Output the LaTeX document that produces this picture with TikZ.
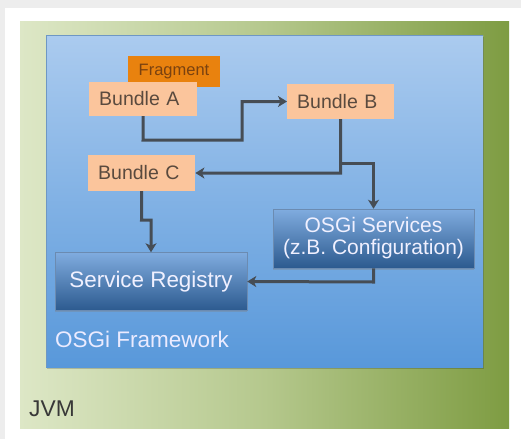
\documentclass[tikz,border=0pt]{standalone}
\usepackage{fontspec}
\setmainfont{Liberation Sans}
\usetikzlibrary{arrows.meta,shadows}

\definecolor{cardgray}{HTML}{EDEDED}
\definecolor{jvmleft}{HTML}{DDE7C6}
\definecolor{jvmmid}{HTML}{B5C88D}
\definecolor{jvmright}{HTML}{7E9C42}
\definecolor{fwtop}{HTML}{ABCBEF}
\definecolor{fwbottom}{HTML}{5898DA}
\definecolor{fwedge}{HTML}{6E97C4}
\definecolor{svctop}{HTML}{80ACDF}
\definecolor{svcbottom}{HTML}{2C5A8F}
\definecolor{peach}{HTML}{FBC59C}
\definecolor{fragorange}{HTML}{E9820E}
\definecolor{bundletext}{HTML}{5A4A3E}
\definecolor{fragtext}{HTML}{7A4210}
\definecolor{wire}{HTML}{464D55}

\tikzset{
  bundlebox/.style={fill=peach, draw=none, anchor=west, align=left,
    inner xsep=10pt, inner ysep=0pt, minimum height=35pt,
    text=bundletext, font=\fontsize{19.5}{22}\selectfont},
  fragbox/.style={fill=fragorange, draw=none, inner sep=0pt,
    minimum width=92pt, minimum height=31pt,
    text=fragtext, font=\fontsize{16.5}{19}\selectfont},
  servicebox/.style={top color=svctop, bottom color=svcbottom,
    draw=svcbottom!70!white, line width=0.5pt, inner sep=0pt, align=center,
    text=white!94!blue, font=\fontsize{21}{22}\selectfont,
    drop shadow={opacity=0.35, shadow xshift=0pt, shadow yshift=-1.5pt}},
  flow/.style={draw=wire, line width=3pt,
    -{Stealth[length=9pt,width=11pt,inset=2.5pt]}},
}

\begin{document}
\begin{tikzpicture}[x=1pt,y=-1pt]
  \useasboundingbox (0,0) rectangle (521,439);
  % card background
  \fill[cardgray] (0,0) rectangle (521,439);
  \fill[white] (5,8) rectangle (521,439);

  % JVM layer
  \shade[left color=jvmleft, right color=jvmright, middle color=jvmmid]
    (20,21) rectangle (509,428);
  \node[anchor=base west, text=black!78, inner sep=0pt,
        font=\fontsize{22.8}{24}\selectfont] (jvm) at (29,416) {JVM};

  % OSGi framework layer
  \fill[black, opacity=0.18] (47,37) rectangle (484,369);
  \shade[top color=fwtop, bottom color=fwbottom] (46,35) rectangle (483,367);
  \draw[fwedge, line width=0.6pt] (46,367) -- (46,35) -- (483,35);
  \node[anchor=base west, text=white!92!blue, inner sep=0pt,
        font=\fontsize{22.5}{24}\selectfont] (fw) at (55,347) {OSGi Framework};

  % bundles
  \node[fragbox] (frag) at (174,71.5) {Fragment};
  \node[bundlebox, text width=88pt, minimum height=34pt] (ba) at (89,99) {Bundle A};
  \node[bundlebox, text width=87pt] (bb) at (287,101.5) {Bundle B};
  \node[bundlebox, text width=87pt, minimum height=36pt] (bc) at (88,173) {Bundle C};

  % services
  \node[servicebox, minimum width=201pt, minimum height=59pt] (svc) at (373.5,238.5)
    {OSGi Services\\(z.B. Configuration)};
  \node[servicebox, minimum width=192pt, minimum height=58pt,
        font=\fontsize{22.4}{24}\selectfont] (reg) at (151,281.5)
    {Service Registry};

  % connectors
  \draw[flow] (ba.south) -- (143,140) -- (242,140) -- (242,101.5) -- (bb.west);
  \draw[flow] (bb.south) -- (340.5,173) -- (bc.east);
  \draw[flow] (340.5,163) -- (373.5,163) -- (svc.north);
  \draw[flow] (bc.south) -- (141.5,220) -- (151,220) -- (reg.north);
  \draw[flow] (svc.south) -- (373.5,282) -- (reg.east);
\end{tikzpicture}
\end{document}
